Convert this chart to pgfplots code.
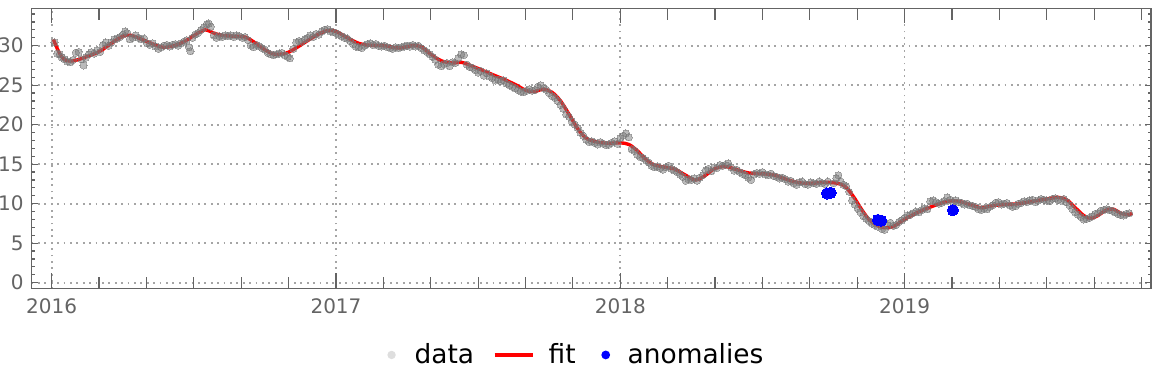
\documentclass[border=0pt]{standalone}
\usepackage{fontspec}
\setmainfont{DejaVu Sans}
\usepackage{pgfplots}
\pgfplotsset{compat=1.18}
\definecolor{tickgray}{RGB}{100,100,100}
\definecolor{gridgray}{RGB}{165,165,165}
\definecolor{datagray}{RGB}{120,120,120}
\definecolor{legdata}{RGB}{190,190,190}
\definecolor{fitred}{RGB}{255,0,0}
\definecolor{anomblue}{RGB}{0,0,255}

\pgfplotstableread{
x y
2016.006 30.8
2016.02 29.6
2016.035 28.6
2016.05 28.15
2016.065 28.05
2016.09 28.2
2016.13 28.7
2016.17 29.3
2016.21 30.3
2016.25 31.2
2016.28 31.3
2016.31 30.9
2016.35 30.3
2016.39 29.8
2016.43 30.0
2016.47 30.6
2016.51 31.5
2016.54 32.0
2016.57 31.6
2016.60 31.3
2016.64 31.2
2016.68 31.1
2016.71 30.5
2016.745 29.6
2016.78 28.95
2016.82 29.0
2016.85 29.5
2016.89 30.4
2016.93 31.3
2016.97 31.9
2017.00 31.8
2017.04 31.0
2017.08 30.3
2017.12 30.05
2017.17 30.0
2017.22 29.7
2017.27 30.0
2017.30 29.85
2017.33 29.0
2017.37 28.1
2017.41 27.8
2017.44 27.9
2017.48 27.4
2017.52 26.8
2017.56 26.2
2017.60 25.6
2017.64 24.9
2017.67 24.3
2017.70 24.2
2017.73 24.5
2017.76 24.1
2017.79 23.0
2017.82 21.3
2017.85 19.5
2017.88 18.3
2017.92 17.8
2017.96 17.65
2018.00 17.7
2018.03 17.5
2018.06 16.7
2018.09 15.6
2018.12 14.9
2018.16 14.6
2018.19 14.4
2018.23 13.6
2018.265 13.0
2018.30 13.6
2018.33 14.4
2018.37 14.7
2018.41 14.3
2018.45 13.9
2018.49 13.8
2018.53 13.7
2018.56 13.4
2018.60 12.9
2018.64 12.6
2018.68 12.6
2018.72 12.7
2018.76 12.6
2018.79 12.2
2018.82 10.9
2018.85 9.2
2018.875 8.0
2018.90 7.3
2018.93 6.95
2018.96 7.1
2018.99 7.8
2019.04 8.8
2019.10 9.7
2019.15 10.3
2019.19 10.3
2019.23 9.9
2019.27 9.5
2019.31 9.75
2019.35 9.9
2019.40 10.0
2019.45 10.3
2019.50 10.6
2019.54 10.8
2019.57 10.5
2019.60 9.5
2019.63 8.5
2019.655 8.15
2019.68 8.5
2019.71 9.2
2019.735 9.3
2019.76 8.8
2019.787 8.6
2019.80 8.8
}\fittable

\pgfplotstableread{
x y
2016.010 30.4
2016.020 29.0
2016.028 28.9
2016.035 28.5
2016.045 28.3
2016.055 28.0
2016.065 27.9
2016.075 28.2
2016.085 29.1
2016.095 29.2
2016.105 28.3
2016.112 27.5
2016.120 28.5
2016.130 28.9
2016.140 29.2
2016.150 29.0
2016.160 29.4
2016.170 29.2
2016.180 30.1
2016.190 30.4
2016.200 30.0
2016.210 30.4
2016.220 30.8
2016.230 30.9
2016.240 31.1
2016.250 31.4
2016.258 31.8
2016.266 31.6
2016.275 30.8
2016.285 31.0
2016.295 31.3
2016.305 31.0
2016.315 30.8
2016.325 30.9
2016.335 30.3
2016.345 30.1
2016.355 30.3
2016.365 29.9
2016.375 29.6
2016.385 29.8
2016.395 30.0
2016.405 30.1
2016.415 29.9
2016.425 30.1
2016.435 30.2
2016.445 30.0
2016.455 30.3
2016.465 30.5
2016.475 30.7
2016.483 29.8
2016.488 29.3
2016.495 31.0
2016.505 31.4
2016.515 31.6
2016.525 32.0
2016.535 32.3
2016.545 32.7
2016.553 32.8
2016.560 32.4
2016.570 31.3
2016.580 31.0
2016.590 31.2
2016.600 31.1
2016.610 31.3
2016.620 31.2
2016.630 31.3
2016.640 31.1
2016.650 31.3
2016.660 31.2
2016.670 31.0
2016.680 31.1
2016.690 30.7
2016.700 30.0
2016.710 29.8
2016.720 30.1
2016.730 29.9
2016.740 29.7
2016.750 29.5
2016.760 29.1
2016.770 28.9
2016.780 28.8
2016.790 28.9
2016.800 29.0
2016.810 29.1
2016.820 28.8
2016.830 28.6
2016.838 28.4
2016.850 29.6
2016.860 30.4
2016.870 30.6
2016.880 30.5
2016.890 30.8
2016.900 31.0
2016.910 31.3
2016.920 31.1
2016.930 31.5
2016.940 31.4
2016.950 31.8
2016.960 32.0
2016.970 32.1
2016.980 31.8
2016.990 31.7
2017.000 31.6
2017.010 31.4
2017.020 31.2
2017.030 31.0
2017.040 30.9
2017.050 30.6
2017.060 30.2
2017.070 29.9
2017.080 29.8
2017.090 29.7
2017.100 30.0
2017.110 30.2
2017.120 30.3
2017.130 30.1
2017.140 30.2
2017.150 30.0
2017.160 29.9
2017.170 30.0
2017.180 29.8
2017.190 29.7
2017.200 29.6
2017.210 29.8
2017.220 29.7
2017.230 29.8
2017.240 29.9
2017.250 30.0
2017.260 29.9
2017.270 30.1
2017.280 29.9
2017.290 30.0
2017.300 29.7
2017.310 29.4
2017.320 29.2
2017.330 28.9
2017.340 28.6
2017.350 28.2
2017.360 27.6
2017.370 27.4
2017.380 27.7
2017.390 27.8
2017.400 27.4
2017.410 27.9
2017.420 27.8
2017.430 28.4
2017.440 28.9
2017.450 28.8
2017.460 27.6
2017.470 27.3
2017.480 27.2
2017.490 26.9
2017.500 26.6
2017.510 26.8
2017.520 26.2
2017.530 26.5
2017.540 26.1
2017.550 25.9
2017.560 25.6
2017.570 25.7
2017.580 25.5
2017.590 25.6
2017.600 25.2
2017.610 25.0
2017.620 24.8
2017.630 24.6
2017.640 24.4
2017.650 24.2
2017.660 24.1
2017.670 24.3
2017.680 24.5
2017.690 24.3
2017.700 24.4
2017.710 24.8
2017.720 25.0
2017.730 24.6
2017.740 24.4
2017.750 24.0
2017.760 23.6
2017.770 23.4
2017.780 23.0
2017.790 22.5
2017.800 22.0
2017.810 21.3
2017.820 21.0
2017.830 20.4
2017.840 20.0
2017.850 19.6
2017.860 19.0
2017.870 18.6
2017.880 18.1
2017.890 17.8
2017.900 17.9
2017.910 17.7
2017.920 17.5
2017.930 17.8
2017.940 17.6
2017.950 17.4
2017.960 17.5
2017.970 17.7
2017.980 17.9
2017.990 17.6
2018.000 18.3
2018.010 18.6
2018.020 18.9
2018.030 18.4
2018.040 16.9
2018.050 16.7
2018.060 16.2
2018.070 15.9
2018.080 15.8
2018.090 15.5
2018.100 15.2
2018.110 14.8
2018.120 14.6
2018.130 14.7
2018.140 14.5
2018.150 14.3
2018.160 14.6
2018.170 14.8
2018.180 14.4
2018.190 14.2
2018.200 14.0
2018.210 13.7
2018.220 13.4
2018.230 12.9
2018.240 13.1
2018.250 13.0
2018.260 13.2
2018.270 12.9
2018.280 13.3
2018.290 13.6
2018.300 14.2
2018.310 14.4
2018.320 14.1
2018.330 14.6
2018.340 14.5
2018.350 14.9
2018.360 14.8
2018.370 14.9
2018.380 15.1
2018.390 14.6
2018.400 14.2
2018.410 14.3
2018.420 14.0
2018.430 13.8
2018.440 13.6
2018.450 13.3
2018.460 13.0
2018.470 13.7
2018.480 13.9
2018.490 13.8
2018.500 14.0
2018.510 13.7
2018.520 13.6
2018.530 13.8
2018.540 13.5
2018.550 13.4
2018.560 13.2
2018.570 13.3
2018.580 13.1
2018.590 12.8
2018.600 12.9
2018.610 12.6
2018.620 12.4
2018.630 12.7
2018.640 12.8
2018.650 12.5
2018.660 12.4
2018.670 12.7
2018.680 12.6
2018.690 12.5
2018.700 12.8
2018.710 12.6
2018.720 12.5
2018.730 12.8
2018.750 12.6
2018.760 13.2
2018.767 13.6
2018.775 12.8
2018.785 12.4
2018.795 12.2
2018.805 11.5
2018.815 10.4
2018.825 9.9
2018.835 9.4
2018.845 8.9
2018.855 8.4
2018.865 8.1
2018.875 7.8
2018.885 7.5
2018.895 7.3
2018.905 7.1
2018.920 6.8
2018.930 6.7
2018.940 7.3
2018.950 7.6
2018.960 7.2
2018.970 7.3
2018.980 7.7
2018.990 7.9
2019.000 8.2
2019.010 8.5
2019.020 8.6
2019.030 8.8
2019.040 9.0
2019.050 8.9
2019.060 9.2
2019.070 9.4
2019.080 9.3
2019.090 10.3
2019.100 10.4
2019.110 10.2
2019.120 10.0
2019.130 10.1
2019.140 10.3
2019.150 10.8
2019.160 10.5
2019.170 10.2
2019.180 10.4
2019.190 10.2
2019.200 10.1
2019.210 9.9
2019.220 10.0
2019.230 9.8
2019.240 9.7
2019.250 9.6
2019.260 9.3
2019.270 9.2
2019.280 9.4
2019.290 9.3
2019.300 9.6
2019.310 9.8
2019.320 10.1
2019.330 10.2
2019.340 9.9
2019.350 10.0
2019.360 10.1
2019.370 9.8
2019.380 9.6
2019.390 9.7
2019.400 10.0
2019.410 10.1
2019.420 10.3
2019.430 10.2
2019.440 10.4
2019.450 10.5
2019.460 10.2
2019.470 10.4
2019.480 10.6
2019.490 10.5
2019.500 10.4
2019.510 10.3
2019.520 10.6
2019.530 10.7
2019.540 10.5
2019.550 10.4
2019.560 10.6
2019.570 10.2
2019.580 9.8
2019.590 9.3
2019.600 8.9
2019.610 8.6
2019.620 8.3
2019.630 8.0
2019.640 8.1
2019.650 8.2
2019.660 8.4
2019.670 8.7
2019.680 8.8
2019.690 9.1
2019.700 9.2
2019.710 9.3
2019.720 9.2
2019.730 9.1
2019.740 8.9
2019.750 8.7
2019.760 8.6
2019.770 8.5
2019.780 8.7
2019.790 8.8
}\datatable

\pgfplotstableread{
x y
2018.727 11.30
2018.740 11.38
2018.906 7.95
2018.918 7.85
2019.170 9.17
}\anomtable

\begin{document}
\begin{tikzpicture}
\path[use as bounding box] (-15.85pt,-46.85pt) rectangle (560.15pt,144.15pt);
\begin{axis}[
  at={(0pt,0pt)}, anchor=south west,
  scale only axis, width=559.65pt, height=140pt,
  xmin=2015.9297, xmax=2019.8667,
  ymin=-0.71, ymax=34.73,
  axis line style={draw=tickgray, line width=0.6pt},
  xtick={2016,2017,2018,2019},
  xticklabels={2016,2017,2018,2019},
  minor xtick={2016.1667,2016.3333,2016.5,2016.6667,2016.8333,
               2017.1667,2017.3333,2017.5,2017.6667,2017.8333,
               2018.1667,2018.3333,2018.5,2018.6667,2018.8333,
               2019.1667,2019.3333,2019.5,2019.6667,2019.8333},
  ytick={0,5,10,15,20,25,30},
  minor ytick={1,2,3,4,6,7,8,9,11,12,13,14,16,17,18,19,21,22,23,24,26,27,28,29,31,32,33,34},
  tick align=inside,
  xtick pos=both, ytick pos=both,
  xtick style={draw=tickgray, line width=0.6pt, /pgfplots/major tick length=7.5pt, /pgfplots/minor tick length=5.8pt},
  ytick style={draw=tickgray, line width=0.6pt, /pgfplots/major tick length=3.2pt, /pgfplots/minor tick length=1.7pt},
  xmajorgrids, ymajorgrids,
  major grid style={draw=gridgray, line width=0.9pt, dash pattern=on 0.9pt off 2.3pt},
  tick label style={font=\fontsize{10pt}{12pt}\selectfont, text=tickgray},
  xticklabel style={yshift=-1.5pt},
  yticklabel style={xshift=-0.5pt},
  /pgf/number format/assume math mode=true,
  legend columns=-1,
  legend style={at={(0.4875,-0.238)}, anchor=center, draw=none, fill=none,
    font=\fontsize{13.2pt}{15pt}\selectfont,
    /tikz/every even column/.append style={column sep=7.5pt}},
  legend cell align=left,
]
\addplot[fitred, line width=1.7pt, smooth, tension=0.55, forget plot] table[x=x,y=y] {\fittable};
\addplot[only marks, mark=*, mark size=1.8pt, color=datagray, opacity=0.5,
  mark options={draw=datagray, fill=datagray, line width=0pt},
  legend image code/.code={\path[draw=none,fill=none] (-2pt,0pt) -- (9.5pt,0pt); \fill[legdata, draw=none] (0pt,0pt) circle (2.1pt);}]
  table[x=x,y=y] {\datatable};
\addlegendentry{data}
\addlegendimage{legend image code/.code={\path[draw=none,fill=none] (0pt,0pt) -- (25pt,0pt); \draw[fitred, line width=1.7pt] (0pt,0pt) -- (19pt,0pt);}}
\addlegendentry{fit}
\addplot[only marks, mark=*, mark size=2.8pt, color=anomblue,
  mark options={draw=anomblue, fill=anomblue, line width=0pt},
  legend image code/.code={\path[draw=none,fill=none] (-5.5pt,0pt) -- (9pt,0pt); \fill[anomblue, draw=none] (0pt,0pt) circle (2.2pt);}]
  table[x=x,y=y] {\anomtable};
\addlegendentry{anomalies}
\end{axis}
\end{tikzpicture}
\end{document}
